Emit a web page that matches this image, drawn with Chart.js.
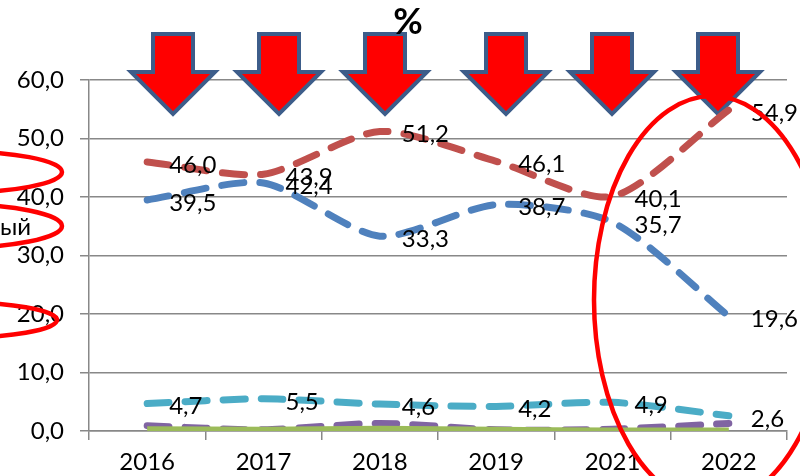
<!DOCTYPE html>
<html>
<head>
<meta charset="utf-8">
<script src="https://cdn.jsdelivr.net/npm/chart.js@4"></script>
<style>
  html, body { margin: 0; padding: 0; background: #fff; }
  #wrap { width: 800px; height: 476px; position: relative; }
</style>
</head>
<body>
<div id="wrap"><canvas id="shareChart"></canvas></div>
<script>
// данные с картинки
const years = ["2016", "2017", "2018", "2019", "2021", "2022"];
const redValues = [46.0, 43.9, 51.2, 46.1, 40.1, 54.9];
const blueValues = [39.5, 42.4, 33.3, 38.7, 35.7, 19.6];
const tealValues = [4.7, 5.5, 4.6, 4.2, 4.9, 2.6];
const purpleValues = [0.9, 0.2, 1.3, 0.2, 0.3, 1.3];
const greenValues = [0.3, 0.2, 0.4, 0.2, 0.1, 0.1];
const yTicks = [0, 10, 20, 30, 40, 50, 60];

const fmt = (v) => v.toFixed(1).replace(".", ",");
const FONT = "Lato";
const FONT_SIZE = 24;

const dashed = (label, values, color, showLabels) => ({
    label,
    data: values,
    borderColor: color,
    borderWidth: 7,
    borderDash: [22, 16],
    borderCapStyle: "round",
    pointRadius: 0,
    tension: 0.25,
    fill: false,
    showLabels,
});

const data = {
    labels: years,
    datasets: [
        {
            label: "green",
            data: greenValues,
            borderColor: "#9BBB59",
            borderWidth: 6,
            pointRadius: 0,
            tension: 0.25,
            fill: false,
            showLabels: false,
        },
        dashed("purple", purpleValues, "#8064A2", false),
        dashed("teal", tealValues, "#4BACC6", true),
        dashed("blue", blueValues, "#4F81BD", true),
        dashed("red", redValues, "#C0504D", true),
    ],
};

// стрелки, заголовок и овалы
const arrowCenters = [173, 279, 385, 506, 612, 718];

const decorBefore = {
    id: "decorBefore",
    beforeDatasetsDraw(chart) {
        const c = chart.ctx;
        c.save();
        arrowCenters.forEach((cx) => {
            c.beginPath();
            c.moveTo(cx - 20, 34);
            c.lineTo(cx + 20, 34);
            c.lineTo(cx + 20, 72);
            c.lineTo(cx + 42, 72);
            c.lineTo(cx, 114);
            c.lineTo(cx - 42, 72);
            c.lineTo(cx - 20, 72);
            c.closePath();
            c.fillStyle = "#FF0000";
            c.fill();
            c.lineWidth = 4;
            c.lineJoin = "miter";
            c.strokeStyle = "#3D5D8A";
            c.stroke();
        });
        c.fillStyle = "#000";
        c.font = "bold 36px " + FONT;
        c.textAlign = "center";
        c.textBaseline = "middle";
        c.fillText("%", 408, 22);
        c.restore();
    },
};

const valueLabels = {
    id: "valueLabels",
    afterDatasetsDraw(chart) {
        const c = chart.ctx;
        c.save();
        c.font = FONT_SIZE + "px " + FONT;
        c.fillStyle = "#000";
        c.textAlign = "left";
        c.textBaseline = "middle";
        chart.data.datasets.forEach((ds, i) => {
            if (!ds.showLabels) return;
            chart.getDatasetMeta(i).data.forEach((pt, j) => {
                c.fillText(fmt(ds.data[j]), pt.x + 22, pt.y + 3);
            });
        });
        c.restore();
    },
};

const decorAfter = {
    id: "decorAfter",
    afterDraw(chart) {
        const c = chart.ctx;
        c.save();
        c.fillStyle = "#000";
        c.font = FONT_SIZE + "px " + FONT;
        c.textAlign = "left";
        c.textBaseline = "middle";
        c.fillText("ый", 0, 227);
        c.strokeStyle = "#FF0000";
        c.lineWidth = 4.5;
        const ovals = [
            [-50, 172, 112, 21],
            [-50, 226, 112, 22],
            [-50, 320, 107, 18],
            [712, 300, 118, 204],
        ];
        ovals.forEach(([x, y, rx, ry]) => {
            c.beginPath();
            c.ellipse(x, y, rx, ry, 0, 0, Math.PI * 2);
            c.stroke();
        });
        c.restore();
    },
};

const options = {
    responsive: true,
    maintainAspectRatio: false,
    animation: false,
    layout: {
        padding: { left: 0, top: 80, right: 13, bottom: 0 },
    },
    plugins: {
        legend: { display: false },
        tooltip: { enabled: false },
    },
    scales: {
        x: {
            offset: true,
            grid: {
                display: true,
                drawOnChartArea: false,
                offset: true,
                color: "#888",
                lineWidth: 1.5,
                tickLength: 9,
            },
            border: { color: "#888", width: 1.5 },
            ticks: {
                color: "#000",
                font: { family: FONT, size: FONT_SIZE },
                padding: 8,
                maxRotation: 0,
            },
            afterFit: (scale) => {
                scale.height = 45;
            },
        },
        y: {
            min: 0,
            max: 60,
            afterBuildTicks: (scale) => {
                scale.ticks = yTicks.map((v) => ({ value: v }));
            },
            grid: {
                color: "#888",
                lineWidth: 1.5,
                tickLength: 9,
            },
            border: { color: "#888", width: 1.5 },
            ticks: {
                color: "#000",
                font: { family: FONT, size: FONT_SIZE },
                padding: 16,
                callback: (value) => fmt(value),
            },
            afterFit: (scale) => {
                scale.width = 89;
            },
        },
    },
};

const ctx = document.getElementById("shareChart").getContext("2d");
new Chart(ctx, {
    type: "line",
    data,
    options,
    plugins: [decorBefore, valueLabels, decorAfter],
});
</script>
</body>
</html>
